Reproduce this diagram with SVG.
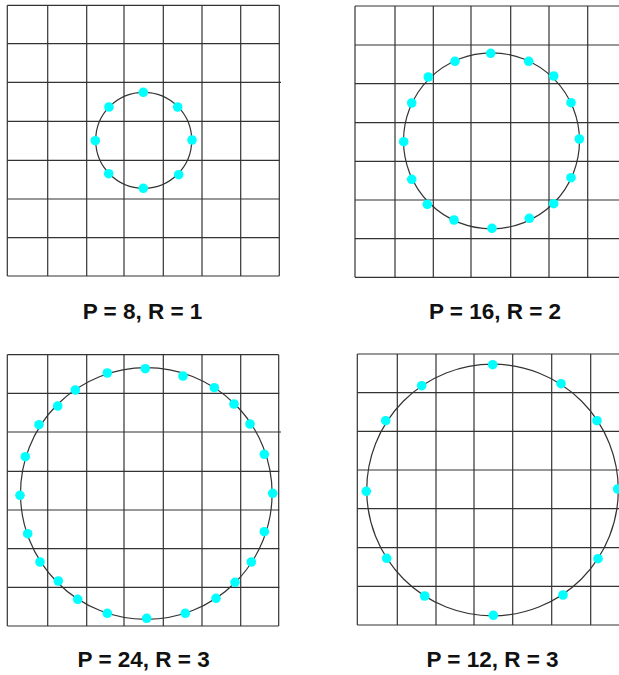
<svg xmlns="http://www.w3.org/2000/svg" width="619" height="675" viewBox="0 0 619 675">
<style>
.grid line{stroke:#333;stroke-width:1.2}
.ring{fill:none;stroke:#333;stroke-width:1.2}
.pt{fill:#00ffff}
.lbl{font-family:"Liberation Sans",Arial,sans-serif;font-weight:bold;font-size:22.5px;fill:#111;text-anchor:middle}
</style>
<rect width="619" height="675" fill="#fff"/>

<g id="panel1">
<g class="grid">
<line x1="7.3" y1="5.3" x2="7.3" y2="276"/><line x1="47.7" y1="5.3" x2="47.7" y2="276"/><line x1="86.7" y1="5.3" x2="86.7" y2="276"/><line x1="124" y1="5.3" x2="124" y2="276"/><line x1="163.3" y1="5.3" x2="163.3" y2="276"/><line x1="202" y1="5.3" x2="202" y2="276"/><line x1="240.7" y1="5.3" x2="240.7" y2="276"/><line x1="279.3" y1="5.3" x2="279.3" y2="276"/>
<line x1="7.3" y1="5.3" x2="279.3" y2="5.3"/><line x1="7.3" y1="43.7" x2="279.3" y2="43.7"/><line x1="7.3" y1="82.3" x2="281" y2="82.3"/><line x1="7.3" y1="121.3" x2="279.3" y2="121.3"/><line x1="7.3" y1="160.3" x2="279.3" y2="160.3"/><line x1="7.3" y1="199" x2="279.3" y2="199"/><line x1="7.3" y1="237.7" x2="279.3" y2="237.7"/><line x1="7.3" y1="276" x2="279.3" y2="276"/>
</g>
<circle class="ring" cx="143.7" cy="140.3" r="48"/>
<g class="pt">
<circle cx="143.3" cy="92.3" r="4.8"/><circle cx="177.7" cy="107" r="4.8"/><circle cx="192" cy="140" r="4.8"/><circle cx="178.7" cy="174.7" r="4.8"/><circle cx="143.3" cy="188.3" r="4.8"/><circle cx="108.7" cy="173.7" r="4.8"/><circle cx="95.3" cy="140.7" r="4.8"/><circle cx="109" cy="107" r="4.8"/>
</g>
<text class="lbl" x="142.5" y="319.3">P = 8, R = 1</text>
</g>

<g id="panel2">
<g class="grid">
<line x1="355" y1="6" x2="355" y2="277.3"/><line x1="395" y1="6" x2="395" y2="277.3"/><line x1="433.3" y1="6" x2="433.3" y2="277.3"/><line x1="471" y1="6" x2="471" y2="277.3"/><line x1="510.7" y1="6" x2="510.7" y2="277.3"/><line x1="549" y1="6" x2="549" y2="277.3"/><line x1="587.7" y1="6" x2="587.7" y2="277.3"/>
<line x1="355" y1="6" x2="619" y2="6"/><line x1="355" y1="45" x2="619" y2="45"/><line x1="355" y1="83.7" x2="619" y2="83.7"/><line x1="355" y1="122.7" x2="619" y2="122.7"/><line x1="355" y1="161.3" x2="619" y2="161.3"/><line x1="355" y1="200" x2="619" y2="200"/><line x1="355" y1="238.7" x2="619" y2="238.7"/><line x1="355" y1="277.3" x2="619" y2="277.3"/>
</g>
<circle class="ring" cx="491.5" cy="140.8" r="88"/>
<g class="pt">
<circle cx="490.7" cy="53.3" r="4.8"/><circle cx="528.7" cy="61.3" r="4.8"/><circle cx="553.7" cy="76" r="4.8"/><circle cx="571" cy="102.7" r="4.8"/><circle cx="579.3" cy="139" r="4.8"/><circle cx="571" cy="177.7" r="4.8"/><circle cx="553.7" cy="203.7" r="4.8"/><circle cx="529.3" cy="218.3" r="4.8"/><circle cx="492" cy="228.3" r="4.8"/><circle cx="454" cy="220" r="4.8"/><circle cx="427.3" cy="204.3" r="4.8"/><circle cx="411.7" cy="179.3" r="4.8"/><circle cx="403.7" cy="141.7" r="4.8"/><circle cx="411.7" cy="103" r="4.8"/><circle cx="428.3" cy="77" r="4.8"/><circle cx="455" cy="61.3" r="4.8"/>
</g>
<text class="lbl" x="495" y="319.3">P = 16, R = 2</text>
</g>

<g id="panel3">
<g class="grid">
<line x1="7.3" y1="354.7" x2="7.3" y2="626"/><line x1="47.7" y1="354.7" x2="47.7" y2="626"/><line x1="86.7" y1="354.7" x2="86.7" y2="626"/><line x1="124" y1="354.7" x2="124" y2="626"/><line x1="163.3" y1="354.7" x2="163.3" y2="626"/><line x1="202" y1="354.7" x2="202" y2="626"/><line x1="240.7" y1="354.7" x2="240.7" y2="626"/><line x1="278.7" y1="354.7" x2="278.7" y2="626"/>
<line x1="7.3" y1="354.7" x2="278.7" y2="354.7"/><line x1="7.3" y1="393.3" x2="279.3" y2="393.3"/><line x1="7.3" y1="432" x2="281" y2="432"/><line x1="7.3" y1="471.3" x2="279.3" y2="471.3"/><line x1="7.3" y1="510" x2="279.3" y2="510"/><line x1="7.3" y1="548.7" x2="279.3" y2="548.7"/><line x1="7.3" y1="587.3" x2="279.3" y2="587.3"/><line x1="7.3" y1="626" x2="278.7" y2="626"/>
</g>
<circle class="ring" cx="146.3" cy="493.5" r="125.8"/>
<g class="pt">
<circle cx="145.3" cy="368.7" r="4.8"/><circle cx="183" cy="376" r="4.8"/><circle cx="214.3" cy="387.7" r="4.8"/><circle cx="234" cy="404" r="4.8"/><circle cx="250" cy="424" r="4.8"/><circle cx="264.3" cy="454.3" r="4.8"/><circle cx="272.7" cy="493.3" r="4.8"/><circle cx="264.3" cy="531.7" r="4.8"/><circle cx="251.3" cy="562" r="4.8"/><circle cx="235" cy="582.3" r="4.8"/><circle cx="216" cy="598.3" r="4.8"/><circle cx="185.3" cy="613.3" r="4.8"/><circle cx="146.7" cy="618.3" r="4.8"/><circle cx="107.3" cy="613.3" r="4.8"/><circle cx="77.7" cy="599.3" r="4.8"/><circle cx="58.3" cy="581" r="4.8"/><circle cx="40" cy="562" r="4.8"/><circle cx="27.7" cy="533.7" r="4.8"/><circle cx="20" cy="495.3" r="4.8"/><circle cx="25.3" cy="456.7" r="4.8"/><circle cx="39" cy="424.7" r="4.8"/><circle cx="57.7" cy="406" r="4.8"/><circle cx="75.3" cy="390" r="4.8"/><circle cx="107.3" cy="373" r="4.8"/>
</g>
<text class="lbl" x="143.7" y="667.3">P = 24, R = 3</text>
</g>

<g id="panel4">
<g class="grid">
<line x1="357.3" y1="354" x2="357.3" y2="625"/><line x1="397.3" y1="354" x2="397.3" y2="625"/><line x1="436" y1="354" x2="436" y2="625"/><line x1="474" y1="354" x2="474" y2="625"/><line x1="512.7" y1="354" x2="512.7" y2="625"/><line x1="551.7" y1="354" x2="551.7" y2="625"/><line x1="590.7" y1="354" x2="590.7" y2="625"/>
<line x1="357.3" y1="354" x2="619" y2="354"/><line x1="357.3" y1="392.7" x2="619" y2="392.7"/><line x1="357.3" y1="431.3" x2="619" y2="431.3"/><line x1="357.3" y1="470" x2="619" y2="470"/><line x1="357.3" y1="508.7" x2="619" y2="508.7"/><line x1="357.3" y1="547.7" x2="619" y2="547.7"/><line x1="357.3" y1="586.3" x2="619" y2="586.3"/><line x1="357.3" y1="625" x2="619" y2="625"/>
</g>
<circle class="ring" cx="492.5" cy="490" r="125.8"/>
<g class="pt">
<circle cx="492.7" cy="364.7" r="4.8"/><circle cx="561" cy="383.7" r="4.8"/><circle cx="597" cy="420.7" r="4.8"/><circle cx="617.7" cy="489" r="4.8"/><circle cx="598" cy="558.7" r="4.8"/><circle cx="563" cy="595" r="4.8"/><circle cx="493.3" cy="615.3" r="4.8"/><circle cx="424.7" cy="596" r="4.8"/><circle cx="386.7" cy="558.3" r="4.8"/><circle cx="366.3" cy="491.3" r="4.8"/><circle cx="385.7" cy="420.7" r="4.8"/><circle cx="421.7" cy="385.7" r="4.8"/>
</g>
<text class="lbl" x="492.5" y="667.3">P = 12, R = 3</text>
</g>
</svg>
